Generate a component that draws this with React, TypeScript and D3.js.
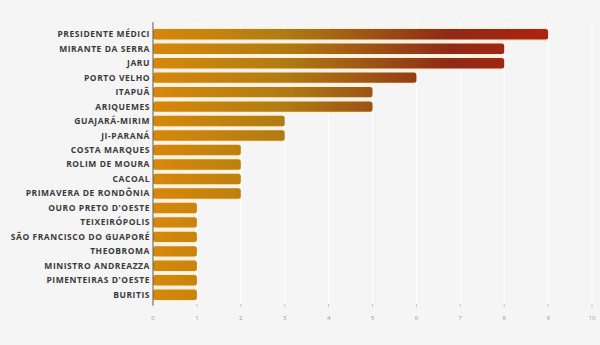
import React from "react";
import * as d3 from "d3";

const categories = [
  "PRESIDENTE MÉDICI",
  "MIRANTE DA SERRA",
  "JARU",
  "PORTO VELHO",
  "ITAPUÃ",
  "ARIQUEMES",
  "GUAJARÁ-MIRIM",
  "JI-PARANÁ",
  "COSTA MARQUES",
  "ROLIM DE MOURA",
  "CACOAL",
  "PRIMAVERA DE RONDÔNIA",
  "OURO PRETO D'OESTE",
  "TEIXEIRÓPOLIS",
  "SÃO FRANCISCO DO GUAPORÉ",
  "THEOBROMA",
  "MINISTRO ANDREAZZA",
  "PIMENTEIRAS D'OESTE",
  "BURITIS",
];
const values = [9, 8, 8, 6, 5, 5, 3, 3, 2, 2, 2, 2, 1, 1, 1, 1, 1, 1, 1];
const xTicks = [0, 1, 2, 3, 4, 5, 6, 7, 8, 9, 10];

const W = 600;
const H = 345;
const left = 153;
const right = 592;
const top = 27;
const bottom = 302;

export default function App() {
  const x = d3.scaleLinear().domain([0, 10]).range([left, right]);
  const y = d3
    .scaleBand<string>()
    .domain(categories)
    .range([top, bottom])
    .paddingInner(0.28)
    .paddingOuter(0.14);
  const bh = y.bandwidth();
  const maxV = d3.max(values) as number;

  return (
    <div style={{ position: "absolute", left: 0, top: 0, width: W, height: H }}>
      <svg width={W} height={H} style={{ display: "block", background: "#f5f5f5" }}>
        <defs>
          <linearGradient
            id="barGrad"
            gradientUnits="userSpaceOnUse"
            x1={x(0)}
            x2={x(maxV)}
            y1={0}
            y2={0}
          >
            <stop offset="0" stopColor="#d6880a" />
            <stop offset="0.33" stopColor="#b07c12" />
            <stop offset="0.58" stopColor="#9b4e14" />
            <stop offset="0.75" stopColor="#8e2a16" />
            <stop offset="1" stopColor="#ae2410" />
          </linearGradient>
        </defs>
        {xTicks.map((t) => (
          <g key={t}>
            <line
              x1={x(t)}
              x2={x(t)}
              y1={22}
              y2={304}
              stroke="#ffffff"
              strokeWidth={1}
            />
            <line x1={x(t)} x2={x(t)} y1={304} y2={307} stroke="#bbbbbb" strokeWidth={0.8} />
            <text
              x={x(t)}
              y={320}
              textAnchor="middle"
              fontFamily="'Open Sans', sans-serif"
              fontSize={6}
              fill="#999999"
            >
              {t}
            </text>
          </g>
        ))}
        {categories.map((c, i) => (
          <rect
            key={"h" + c}
            x={x(0)}
            y={(y(c) as number) - 1.5}
            width={x(values[i]) - x(0)}
            height={bh + 3}
            rx={3}
            fill="#fcefcf"
            opacity={0.8}
          />
        ))}
        {categories.map((c, i) => (
          <g key={c}>
            <rect
              x={x(0)}
              y={y(c) as number}
              width={x(values[i]) - x(0)}
              height={bh}
              rx={2.5}
              fill="url(#barGrad)"
            />
            <text
              x={left - 3}
              y={(y(c) as number) + bh / 2}
              dy="0.35em"
              textAnchor="end"
              fontFamily="'Open Sans', sans-serif"
              fontWeight={700}
              fontSize={8.5}
              letterSpacing={0.55}
              fill="#3a3a3a"
            >
              {c}
            </text>
          </g>
        ))}
        <line x1={left} x2={left} y1={22} y2={305} stroke="#555555" strokeWidth={1} />
      </svg>
    </div>
  );
}
